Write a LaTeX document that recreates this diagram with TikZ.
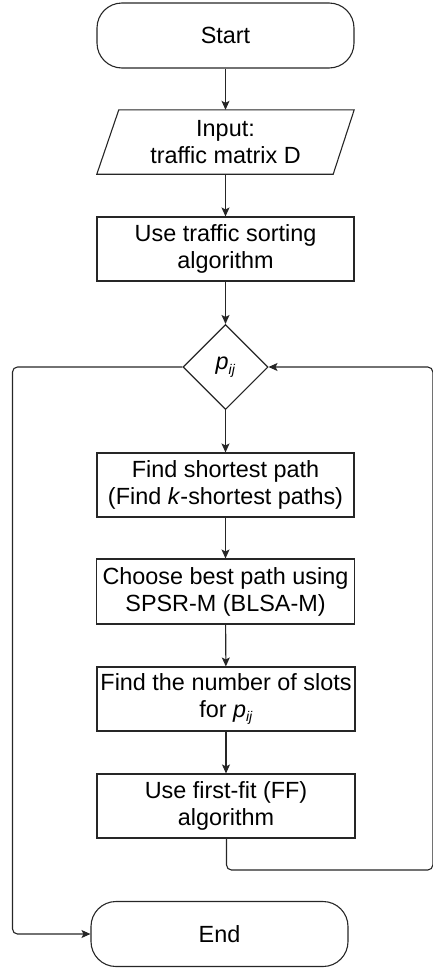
\documentclass[tikz,border=0pt]{standalone}
\usepackage{fontspec}
\setmainfont{Liberation Sans}
\usetikzlibrary{shapes.geometric,arrows.meta}
\begin{document}
\begin{tikzpicture}[x=1pt,y=-1pt,
  lc/.style={draw=black!85,line width=1.1pt},
  txt/.style={font=\fontsize{23.4}{27}\selectfont,align=center,inner sep=0pt},
  procbox/.style={txt,lc,rectangle,minimum width=257pt,minimum height=64pt},
  termbox/.style={txt,lc,rectangle,rounded corners=25pt,minimum width=257pt,minimum height=65pt},
  decbox/.style={txt,lc,diamond,aspect=1,minimum width=85pt,minimum height=85pt},
  flow/.style={lc,-{Stealth[length=9pt,width=8pt,inset=2pt]}},
  loopline/.style={flow,rounded corners=5pt}]
\useasboundingbox (0,0) rectangle (433,972);
\node[termbox] (start) at (225.5,35.5) {Start};
\node[txt,minimum width=257pt,minimum height=64pt] (input) at (225.5,142) {Input:\\traffic matrix D};
\draw[lc,line join=miter] ([xshift=22pt]input.north west) -- (input.north east) -- ([xshift=-21pt]input.south east) -- (input.south west) -- cycle;
\node[procbox] (sort) at (225.5,249) {Use traffic sorting\\algorithm};
\node[decbox] (dec) at (225.5,367) {\textit{p}\raisebox{-0.35ex}{\fontsize{14}{14}\selectfont\textit{ij}}};
\node[procbox] (b1) at (225.5,485) {Find shortest path\\(Find \textit{k}-shortest paths)};
\node[procbox,minimum width=258pt,minimum height=65pt] (b2) at (225.5,591.5) {Choose best path using\\SPSR-M (BLSA-M)};
\node[procbox,minimum width=258pt] (b3) at (226,699) {Find the number of slots\\for \textit{p}\raisebox{-0.35ex}{\fontsize{14}{14}\selectfont\textit{ij}}};
\node[procbox,minimum width=258pt] (b4) at (226,806) {Use first-fit (FF)\\algorithm};
\node[termbox] (end) at (219.5,934) {End};
\coordinate (l1) at (12.5,367);
\coordinate (l2) at (12.5,934);
\coordinate (r0) at (226.5,870);
\coordinate (r1) at (432.8,870);
\coordinate (r2) at (432.8,367);
\draw[flow] (start) -- (input);
\draw[flow] (input) -- (sort);
\draw[flow] (sort) -- (dec);
\draw[flow] (dec) -- (b1);
\draw[flow] (b1) -- (b2);
\draw[flow] (b2) -- (b3);
\draw[flow] (b3) -- (b4);
\draw[loopline] (dec.west) -- (l1) -- (l2) -- (end.west);
\draw[loopline] (b4.south -| r0) -- (r0) -- (r1) -- (r2) -- (dec.east);
\end{tikzpicture}
\end{document}
